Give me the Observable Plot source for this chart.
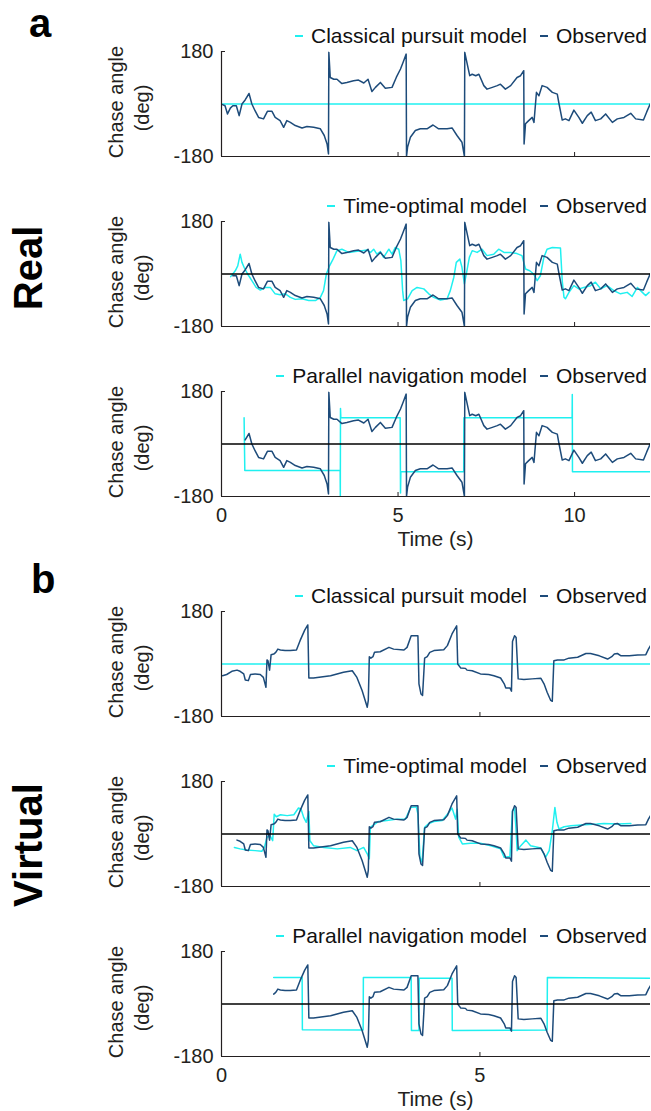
<!DOCTYPE html>
<html><head><meta charset="utf-8">
<script src="https://cdn.jsdelivr.net/npm/d3@7"></script>
<script src="https://cdn.jsdelivr.net/npm/@observablehq/plot@0.6"></script>
<style>
body{margin:0;background:#fff;}
#fig{position:relative;width:651px;height:1111px;font-family:"Liberation Sans",Arial,sans-serif;color:#231f20;overflow:hidden;background:#fff}
.abs{position:absolute}
.letter{font-weight:bold;font-size:40px;line-height:46px;color:#000}
.rot{transform:translate(-50%,-50%) rotate(-90deg);white-space:nowrap}
.big{font-weight:bold;font-size:40px;line-height:40px;color:#000}
.ylab{font-size:20px;line-height:20px}
.xlab{font-size:21px;line-height:24px;transform:translate(-50%,-50%);white-space:nowrap}
.legend{display:flex;align-items:center;font-size:21px;line-height:24px;height:24px;white-space:nowrap;color:#111}
.sw{display:inline-block;width:8px;height:2px;margin-right:8px}
</style></head><body><div id="fig"></div><script>
// ---- data ----
const yTicks = [-180, 180];
const realXTicks = [0, 5, 10];
const virtualXTicks = [0, 5];
const realXMax = 12.15;
const virtualXMax = 8.3;
const modelNames = ["Classical pursuit model", "Time-optimal model", "Parallel navigation model"];
const realObsStart = [0, 0.26, 0.62];
const virtualObsStart = [0, 0.26, 1.01];

const realObserved = [[0.03,-2],[0.10,-6],[0.17,-34],[0.25,-14],[0.32,-6],[0.42,-6],[0.50,-40],[0.58,0],[0.67,14],[0.78,36],[0.86,0],[0.95,-23],[1.05,-46],[1.19,-51],[1.30,-25],[1.43,-25],[1.52,-46],[1.66,-57],[1.76,-80],[1.85,-57],[1.95,-63],[2.09,-74],[2.28,-82],[2.42,-77],[2.61,-80],[2.80,-85],[2.91,-108],[2.99,-137],[3.03,-171],[3.04,177],[3.08,91],[3.18,85],[3.27,85],[3.41,70],[3.55,74],[3.74,80],[3.88,82],[4.03,72],[4.15,85],[4.26,43],[4.36,57],[4.50,74],[4.64,54],[4.83,57],[4.95,91],[5.07,120],[5.16,148],[5.23,171],[5.24,-180],[5.27,-148],[5.35,-114],[5.49,-91],[5.63,-85],[5.82,-85],[5.99,-72],[6.15,-85],[6.39,-85],[6.53,-82],[6.67,-108],[6.81,-131],[6.88,-180],[6.89,177],[6.96,137],[7.03,97],[7.10,102],[7.20,97],[7.29,102],[7.43,63],[7.52,51],[7.67,57],[7.81,63],[7.90,68],[8.04,51],[8.19,63],[8.37,91],[8.47,97],[8.56,114],[8.57,-137],[8.61,-68],[8.70,-57],[8.80,-46],[8.85,-63],[8.92,40],[8.99,28],[9.08,63],[9.22,57],[9.37,40],[9.51,34],[9.56,0],[9.65,-55],[9.74,-51],[9.84,-57],[9.98,-21],[10.12,-46],[10.22,-66],[10.36,-40],[10.47,-28],[10.59,-57],[10.74,-51],[10.88,-34],[11.07,-63],[11.21,-51],[11.40,-46],[11.59,-32],[11.73,-51],[11.95,-55],[12.04,-28],[12.14,0]];

const realClassical = [[0,0],[12.15,0]];

const realTimeOptimal = [[0.26,-9],[0.39,11],[0.46,28],[0.53,68],[0.58,40],[0.64,23],[0.74,0],[0.86,-23],[0.98,-46],[1.10,-55],[1.24,-46],[1.38,-46],[1.52,-68],[1.66,-71],[1.81,-68],[1.95,-80],[2.09,-87],[2.28,-85],[2.47,-91],[2.66,-91],[2.80,-80],[2.89,-57],[2.97,0],[3.06,28],[3.16,51],[3.27,80],[3.41,85],[3.60,74],[3.79,77],[3.98,80],[4.12,82],[4.22,74],[4.31,85],[4.40,68],[4.50,77],[4.59,57],[4.74,85],[4.83,68],[4.92,91],[5.02,85],[5.08,46],[5.13,-57],[5.16,-91],[5.27,-85],[5.40,-57],[5.54,-46],[5.73,-51],[5.87,-68],[6.01,-80],[6.20,-89],[6.39,-85],[6.48,-57],[6.58,-11],[6.65,40],[6.75,51],[6.81,23],[6.88,-34],[6.95,11],[7.02,57],[7.10,80],[7.24,74],[7.38,85],[7.52,63],[7.71,68],[7.85,85],[8.00,74],[8.19,74],[8.37,70],[8.51,63],[8.61,17],[8.73,11],[8.84,0],[8.94,-23],[9.03,-6],[9.13,57],[9.22,85],[9.37,91],[9.60,89],[9.65,-23],[9.70,-80],[9.74,-85],[9.84,-63],[9.98,-40],[10.12,-51],[10.26,-46],[10.45,-40],[10.59,-28],[10.74,-51],[10.92,-40],[11.11,-57],[11.30,-68],[11.49,-63],[11.63,-77],[11.78,-46],[11.92,-63],[12.01,-74],[12.11,-63]];

const realParallel = [[0.64,90],[0.66,-91],[3.36,-91],[3.365,-180],[3.37,122],[3.38,90],[5.06,90],[5.07,-168],[5.08,-95],[6.86,-95],[6.865,90],[9.93,90],[9.935,170],[9.94,-95],[12.15,-95]];

const virtualObserved = [[0.02,-40],[0.10,-36],[0.20,-25],[0.30,-21],[0.36,-25],[0.43,-34],[0.46,-55],[0.52,-57],[0.56,-36],[0.65,-34],[0.75,-36],[0.81,-46],[0.86,-80],[0.88,14],[0.90,11],[0.93,-21],[0.96,32],[1.01,34],[1.05,40],[1.09,51],[1.14,48],[1.23,46],[1.33,46],[1.45,48],[1.52,80],[1.61,116],[1.67,134],[1.69,-48],[1.78,-48],[2.11,-40],[2.36,-28],[2.53,-23],[2.62,-46],[2.72,-91],[2.82,-148],[2.84,-125],[2.86,25],[2.89,20],[2.93,25],[2.96,40],[3.07,42],[3.24,57],[3.33,51],[3.53,48],[3.59,57],[3.67,97],[3.80,97],[3.82,-68],[3.86,-103],[3.89,-108],[3.93,20],[3.98,25],[4.03,40],[4.11,46],[4.30,49],[4.37,63],[4.46,103],[4.55,131],[4.57,0],[4.63,-14],[4.72,-15],[4.75,-21],[4.85,-23],[5.01,-34],[5.17,-36],[5.27,-40],[5.40,-48],[5.47,-68],[5.50,-82],[5.58,-82],[5.61,-93],[5.63,77],[5.67,97],[5.70,91],[5.74,-51],[5.85,-53],[6.01,-51],[6.18,-49],[6.24,-68],[6.30,-97],[6.37,-125],[6.40,-128],[6.43,11],[6.50,14],[6.63,14],[6.72,20],[6.89,23],[7.05,36],[7.14,36],[7.31,28],[7.47,17],[7.55,25],[7.60,34],[7.66,36],[7.73,28],[7.89,28],[8.05,31],[8.21,32],[8.26,51],[8.31,66]];

const virtualClassical = [[0,0],[8.3,0]];

const virtualTimeOptimal = [[0.25,-46],[0.36,-51],[0.49,-55],[0.65,-57],[0.78,-59],[0.83,-46],[0.88,-11],[0.94,-6],[0.99,-23],[1.02,68],[1.06,59],[1.14,66],[1.27,63],[1.40,66],[1.49,89],[1.54,85],[1.59,57],[1.64,40],[1.69,77],[1.71,-23],[1.78,-40],[1.98,-46],[2.24,-51],[2.49,-46],[2.62,-57],[2.75,-46],[2.82,-68],[2.86,-85],[2.88,23],[2.95,32],[3.04,43],[3.20,46],[3.40,51],[3.56,51],[3.66,91],[3.77,93],[3.80,68],[3.84,-80],[3.88,-97],[3.93,23],[4.01,36],[4.11,43],[4.27,46],[4.40,74],[4.46,89],[4.53,51],[4.56,85],[4.59,-11],[4.66,-34],[4.82,-32],[5.01,-32],[5.21,-40],[5.40,-51],[5.47,-80],[5.58,-77],[5.63,80],[5.67,89],[5.70,11],[5.72,-57],[5.79,-40],[5.89,-21],[5.98,-40],[6.18,-48],[6.27,-80],[6.34,-57],[6.40,11],[6.45,91],[6.49,40],[6.53,17],[6.63,25],[6.76,28],[7.02,32],[7.27,34],[7.40,36],[7.66,34],[7.92,36]];

const virtualParallel = [[1.01,91],[1.56,91],[1.565,-88],[2.74,-89],[2.745,91],[3.67,91],[3.675,-91],[3.82,-91],[3.825,88],[4.46,88],[4.465,-91],[6.30,-89],[6.305,91],[8.31,88]];

// ---- styling ----
const CYAN = "#1ff0f0";
const BLUE = "#1d4b7a";
const AXIS = "#231f20";
const FONT = "'Liberation Sans', Arial, sans-serif";

const fig = document.getElementById("fig");

function addText(html, cls, left, top, extra = "") {
  const d = document.createElement("div");
  d.className = "abs " + cls;
  d.style.cssText += `left:${left}px;top:${top}px;` + extra;
  d.innerHTML = html;
  fig.appendChild(d);
  return d;
}

function makePanel({svgTop, xMax, xTicks, model, modelName, obs, obsFrom, zero, bottom}) {
  const mt = 31, ph = 105, mb = bottom ? 34 : 8;
  const chart = Plot.plot({
    width: 651, height: mt + ph + mb,
    marginLeft: 221, marginRight: 1, marginTop: mt, marginBottom: mb,
    style: {fontFamily: FONT, fontSize: "20px", color: AXIS, background: "transparent", overflow: "visible"},
    x: {domain: [0, xMax]},
    y: {domain: [-180, 180]},
    marks: [
      Plot.line(model, {x: d => d[0], y: d => d[1], stroke: CYAN, strokeWidth: 1.5, clip: true}),
      Plot.line(obs.filter(d => d[0] >= obsFrom), {x: d => d[0], y: d => d[1], stroke: BLUE, strokeWidth: 1.5, clip: true}),
      zero ? Plot.ruleY([0], {stroke: "#000", strokeWidth: 1.3}) : null,
      Plot.ruleX([0], {stroke: AXIS, strokeWidth: 1.2}),
      Plot.ruleY([-180], {stroke: AXIS, strokeWidth: 1.2}),
      Plot.axisY({ticks: yTicks, tickSize: -4, tickPadding: 12, tickFormat: d => String(d), label: null}),
      Plot.axisX({ticks: xTicks, tickSize: -4, tickPadding: 15,
        tickFormat: bottom ? (d => String(d)) : (() => ""), label: null})
    ]
  });
  chart.style.position = "absolute";
  chart.style.left = "0px";
  chart.style.top = svgTop + "px";
  fig.appendChild(chart);

  const plotTop = svgTop + mt;
  // legend
  const lg = document.createElement("div");
  lg.className = "abs legend";
  lg.style.right = "4px";
  lg.style.top = (plotTop - 15 - 12) + "px";
  lg.innerHTML = `<span class="sw" style="background:${CYAN}"></span><span>${modelName}</span>` +
    `<span class="sw" style="background:${BLUE};margin-left:13px"></span><span>Observed</span>`;
  fig.appendChild(lg);
  // y label
  addText("Chase angle", "rot ylab", 116, plotTop + 51);
  addText("(deg)", "rot ylab", 142, plotTop + 57);
  if (bottom) addText("Time (s)", "xlab", 435.5, plotTop + ph + 43);
}

const realModels = [realClassical, realTimeOptimal, realParallel];
const virtualModels = [virtualClassical, virtualTimeOptimal, virtualParallel];
[20, 190, 360].forEach((top, i) => makePanel({svgTop: top, xMax: realXMax, xTicks: realXTicks,
  model: realModels[i], modelName: modelNames[i], obs: realObserved, obsFrom: realObsStart[i], zero: i > 0, bottom: i === 2}));
[580, 750, 920].forEach((top, i) => makePanel({svgTop: top, xMax: virtualXMax, xTicks: virtualXTicks,
  model: virtualModels[i], modelName: modelNames[i], obs: virtualObserved, obsFrom: virtualObsStart[i], zero: i > 0, bottom: i === 2}));

addText("a", "letter", 29, 0);
addText("b", "letter", 31, 556);
addText("Real", "rot big", 28, 268);
addText("Virtual", "rot big", 28, 845);
</script></body></html>
